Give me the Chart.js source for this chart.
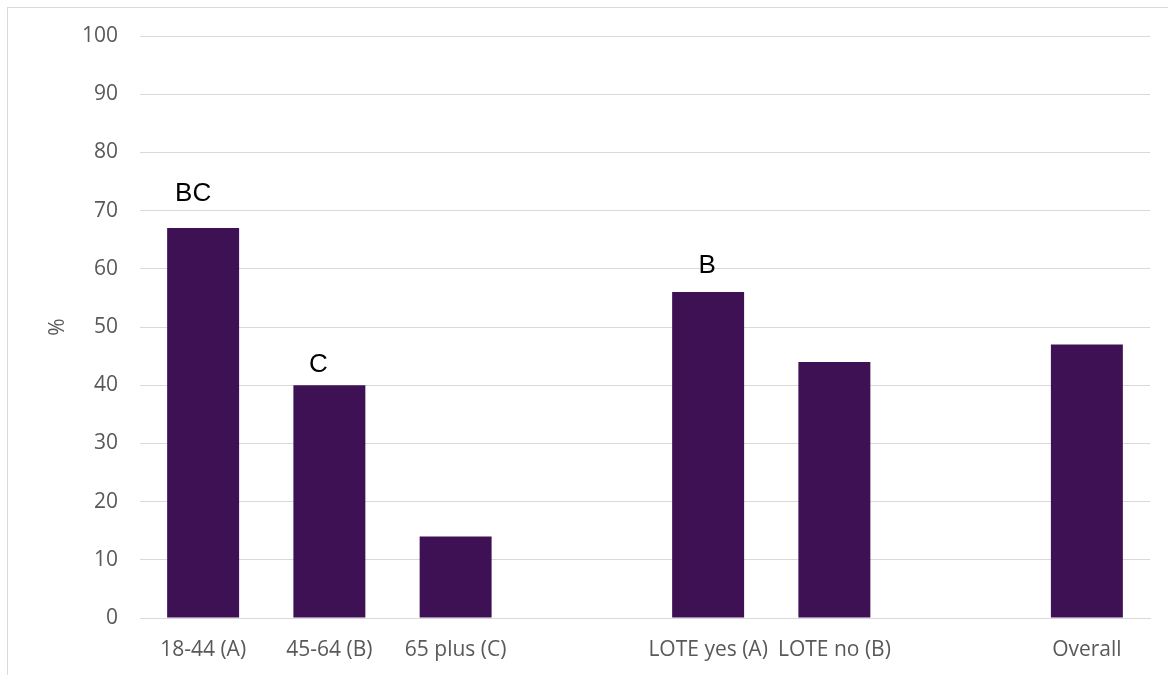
<!DOCTYPE html>
<html>
<head>
<meta charset="utf-8">
<script src="https://cdn.jsdelivr.net/npm/chart.js@4/dist/chart.umd.min.js"></script>
<style>
html,body{margin:0;padding:0;background:#fff;overflow:hidden}
#frame{position:absolute;left:7px;top:7px;width:1300px;height:800px;border:1px solid #d9d9d9;box-sizing:border-box}
#chart{position:absolute;left:0;top:0;width:1168px;height:675px}
</style>
</head>
<body>
<div id="frame"></div>
<canvas id="chart" width="1168" height="675"></canvas>
<script>

/* data */

const categories = ["18-44 (A)","45-64 (B)","65 plus (C)","","LOTE yes (A)","LOTE no (B)","","Overall"]
const percentValues = [67,40,14,null,56,44,null,47]
const sigLabels = ["BC","C","","","B","","",""]
const yTicks = [0,10,20,30,40,50,60,70,80,90,100]

/* per-label placement: gap from bar top to baseline, sideways nudge */
const sigGap = [27,13,20,20,19,20,20,20]
const sigShift = [-10,-11,0,0,-1,0,0,0]

const sigPlugin = {
id:"sigLabels",
afterDatasetsDraw(chart){
const ctx = chart.ctx
const meta = chart.getDatasetMeta(0)
ctx.save()
ctx.font = "26px 'Liberation Sans', Arial, sans-serif"
ctx.fillStyle = "#000"
ctx.textAlign = "center"
ctx.textBaseline = "alphabetic"
meta.data.forEach((bar,i)=>{
if(!sigLabels[i] || percentValues[i]==null) return
ctx.fillText(sigLabels[i], bar.x + sigShift[i], bar.y - sigGap[i])
})
ctx.restore()
}
}

const tickFont = {family:"'Open Sans', sans-serif",size:21}

new Chart(document.getElementById("chart"),{
type:"bar",
data:{
labels:categories,
datasets:[{
data:percentValues,
backgroundColor:"#3e1054",
categoryPercentage:1,
barPercentage:0.57
}]
},
plugins:[sigPlugin],
options:{
responsive:false,
animation:false,
devicePixelRatio:1,
layout:{padding:{left:0,right:18,top:36,bottom:0}},
plugins:{legend:{display:false},tooltip:{enabled:false}},
scales:{
x:{
grid:{display:false},
border:{color:"#d9d9d9"},
ticks:{color:"#595959",font:tickFont,padding:11,maxRotation:0,autoSkip:false},
afterFit(scale){scale.height = 57}
},
y:{
min:0,max:100,
afterBuildTicks(scale){scale.ticks = yTicks.map(v=>({value:v}))},
grid:{color:"#d9d9d9",drawTicks:false},
border:{display:false},
ticks:{color:"#595959",font:tickFont,padding:22},
title:{display:true,text:"%",color:"#595959",font:tickFont,padding:{top:45,bottom:0}},
afterFit(scale){scale.width = 140}
}
}
}
})

</script>
</body>
</html>
